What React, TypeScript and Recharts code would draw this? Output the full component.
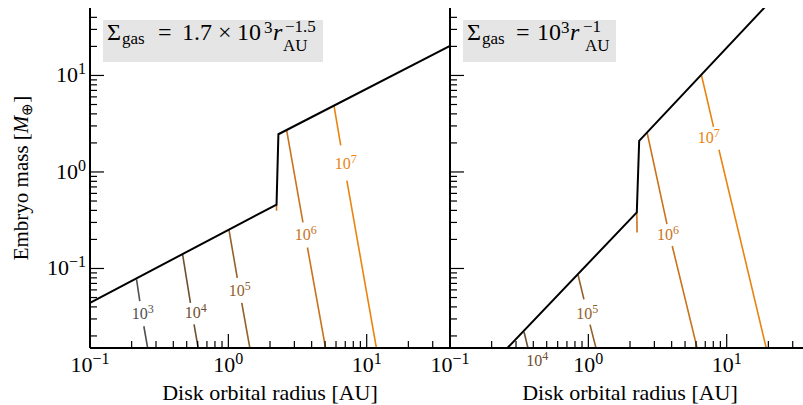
import { LineChart, Line, XAxis, YAxis, ReferenceDot } from 'recharts';

type Pt = { x: number; y: number | null };
type Lbl = { x: number; y: number; p: number };

const FONT = '"Liberation Serif", "Times New Roman", serif';

// colours of the 10^3 .. 10^7 contours
const C3 = '#505050';
const C4 = '#6f4f2f';
const C5 = '#93612b';
const C6 = '#c9731c';
const C7 = '#ea830f';

const X_DOMAIN = [0.1, 40];
const Y_DOMAIN = [0.015, 50];
const X_TICKS = [0.1, 0.2, 0.3, 0.4, 0.5, 0.6, 0.7, 0.8, 0.9, 1, 2, 3, 4, 5, 6, 7, 8, 9, 10, 20, 30];
const Y_TICKS = [
  0.02, 0.03, 0.04, 0.05, 0.06, 0.07, 0.08, 0.09, 0.1, 0.2, 0.3, 0.4, 0.5, 0.6, 0.7, 0.8, 0.9,
  1, 2, 3, 4, 5, 6, 7, 8, 9, 10, 20, 30, 40,
];
const MAJOR = [0.1, 1, 10];

/* ── left panel: Σ = 1.7e3 r^-1.5 ───────────────────── */
const leftEdge: Pt[] = [
  { x: 0.1, y: 0.044 }, { x: 2.23, y: 0.46 }, { x: 2.3, y: 2.46 }, { x: 40, y: 20.2 },
];
const left3: Pt[] = [
  { x: 0.217, y: 0.077 }, { x: 0.229, y: 0.0458 }, { x: 0.237, y: null }, { x: 0.245, y: 0.0252 }, { x: 0.261, y: 0.015 },
];
const left4: Pt[] = [
  { x: 0.467, y: 0.14 }, { x: 0.532, y: 0.044 }, { x: 0.55, y: null }, { x: 0.565, y: 0.0264 }, { x: 0.605, y: 0.015 },
];
const left5: Pt[] = [
  { x: 1.01, y: 0.252 }, { x: 1.16, y: 0.08 }, { x: 1.2, y: null }, { x: 1.25, y: 0.044 }, { x: 1.43, y: 0.015 },
];
const left6: Pt[] = [
  { x: 2.64, y: 2.7 }, { x: 3.46, y: 0.3 }, { x: 3.6, y: null }, { x: 3.73, y: 0.165 }, { x: 5.04, y: 0.015 },
];
const left6b: Pt[] = [{ x: 2.23, y: 0.46 }, { x: 2.23, y: 0.397 }];
const left7: Pt[] = [
  { x: 5.81, y: 4.8 }, { x: 6.49, y: 1.89 }, { x: 6.8, y: null }, { x: 7.19, y: 0.815 }, { x: 11.75, y: 0.015 },
];
const leftLabels: Lbl[] = [
  { x: 0.241, y: 0.0336, p: 3 }, { x: 0.582, y: 0.0343, p: 4 }, { x: 1.21, y: 0.058, p: 5 },
  { x: 3.63, y: 0.223, p: 6 }, { x: 7.05, y: 1.2, p: 7 },
];

/* ── right panel: Σ = 1e3 r^-1 ──────────────────────── */
const rightEdge: Pt[] = [
  { x: 0.26, y: 0.015 }, { x: 2.24, y: 0.381 }, { x: 2.33, y: 2.1 }, { x: 18.8, y: 50.7 },
];
const right4: Pt[] = [{ x: 0.343, y: 0.022 }, { x: 0.366, y: 0.015 }];
const right5: Pt[] = [
  { x: 0.843, y: 0.0856 }, { x: 0.929, y: 0.0478 }, { x: 0.98, y: null }, { x: 1.028, y: 0.0262 }, { x: 1.135, y: 0.015 },
];
const right6: Pt[] = [
  { x: 2.66, y: 2.55 }, { x: 3.7, y: 0.288 }, { x: 3.85, y: null }, { x: 4.04, y: 0.171 }, { x: 6.11, y: 0.015 },
];
const right6b: Pt[] = [{ x: 2.24, y: 0.381 }, { x: 2.25, y: 0.236 }];
const right7: Pt[] = [
  { x: 6.58, y: 10 }, { x: 8.03, y: 2.93 }, { x: 8.4, y: null }, { x: 8.79, y: 1.7 }, { x: 19.3, y: 0.015 },
];
const rightLabels: Lbl[] = [
  { x: 0.427, y: 0.0111, p: 4 }, { x: 0.98, y: 0.0336, p: 5 }, { x: 3.77, y: 0.223, p: 6 }, { x: 7.43, y: 2.23, p: 7 },
];

const LABEL_COLOR: Record<number, string> = { 3: C3, 4: C4, 5: C5, 6: C6, 7: C7 };

const expText = (v: number) => {
  const e = Math.round(Math.log10(v));
  return e < 0 ? `\u2212${-e}` : `${e}`;
};

/* ── ticks (inward, major + minor) ──────────────────── */
function TickX({ x, y, payload, top, labels }: any) {
  const v = payload.value;
  const major = MAJOR.includes(v);
  const len = major ? 14 : 7;
  return (
    <g>
      <line x1={x} x2={x} y1={y} y2={top ? y + len : y - len} stroke="#000" strokeWidth={1.2} />
      {labels && major && (
        <text x={x} y={y + 24} textAnchor="middle" fontFamily={FONT} fontSize={22} fill="#000">
          10<tspan dy={-8} fontSize={16}>{expText(v)}</tspan>
        </text>
      )}
    </g>
  );
}

function TickY({ x, y, payload, right, labels }: any) {
  const v = payload.value;
  const major = MAJOR.includes(v);
  const len = major ? 14 : 7;
  return (
    <g>
      <line x1={x} x2={right ? x - len : x + len} y1={y} y2={y} stroke="#000" strokeWidth={1.2} />
      {labels && major && (
        <text x={x - 4} y={y + 7} textAnchor="end" fontFamily={FONT} fontSize={22} fill="#000">
          10<tspan dy={-8} fontSize={16}>{expText(v)}</tspan>
        </text>
      )}
    </g>
  );
}

function ContourText({ cx, cy, p }: any) {
  const color = LABEL_COLOR[p];
  return (
    <text x={cx} y={cy + 5} textAnchor="middle" fontFamily={FONT} fontSize={16} fill={color}>
      10<tspan dy={-6} fontSize={12}>{p}</tspan>
    </text>
  );
}

/* ── annotations ────────────────────────────────────── */
function LeftNotes() {
  return (
    <g fontFamily={FONT} fill="#000">
      <rect x={103} y={20} width={220} height={42} fill="#e5e5e5" />
      <text fontSize={24}>
        <tspan x={107} y={40}>Σ</tspan>
        <tspan x={122} y={44} fontSize={17}>gas</tspan>
        <tspan x={158} y={40}>=</tspan>
        <tspan x={182} y={40}>1.7</tspan>
        <tspan x={218} y={40}>×</tspan>
        <tspan x={237} y={40}>10</tspan>
        <tspan x={264} y={33} fontSize={17}>3</tspan>
        <tspan x={273} y={40} fontStyle="italic">r</tspan>
        <tspan x={285} y={32} fontSize={17}>−1.5</tspan>
        <tspan x={283} y={51} fontSize={17}>AU</tspan>
      </text>
      <text transform="translate(28,178) rotate(-90)" textAnchor="middle" fontSize={21}>
        Embryo mass [<tspan fontStyle="italic">M</tspan>
        <tspan fontSize={15} dy={4}>⊕</tspan>
        <tspan dy={-4}>]</tspan>
      </text>
      <text x={270} y={400} textAnchor="middle" fontSize={22}>Disk orbital radius [AU]</text>
    </g>
  );
}

// right chart svg starts at page x = 400
function RightNotes() {
  return (
    <g fontFamily={FONT} fill="#000">
      <rect x={63} y={20} width={153} height={42} fill="#e5e5e5" />
      <text fontSize={24}>
        <tspan x={67} y={40}>Σ</tspan>
        <tspan x={82} y={44} fontSize={17}>gas</tspan>
        <tspan x={116} y={40}>=</tspan>
        <tspan x={137} y={40}>10</tspan>
        <tspan x={161} y={33} fontSize={17}>3</tspan>
        <tspan x={170} y={40} fontStyle="italic">r</tspan>
        <tspan x={183} y={32} fontSize={17}>−1</tspan>
        <tspan x={185} y={51} fontSize={17}>AU</tspan>
      </text>
      <text x={230} y={400} textAnchor="middle" fontSize={22}>Disk orbital radius [AU]</text>
    </g>
  );
}

function Panel({ width, yWidth, yLabels, edge, contours, labels, notes }: any) {
  return (
    <LineChart width={width} height={405} margin={{ top: 8, right: 10, bottom: 0, left: 0 }}>
      <XAxis
        type="number" dataKey="x" scale="log" domain={X_DOMAIN} allowDataOverflow
        ticks={X_TICKS} interval={0} height={57} tickSize={0} tickMargin={0} tickLine={false}
        axisLine={{ stroke: '#000', strokeWidth: 2 }}
        tick={(p: any) => <TickX {...p} labels />}
      />
      <XAxis
        xAxisId="t" orientation="top" type="number" dataKey="x" scale="log" domain={X_DOMAIN} allowDataOverflow
        ticks={X_TICKS} interval={0} height={0} tickSize={0} tickMargin={0} tickLine={false}
        axisLine={{ stroke: '#000', strokeWidth: 2 }}
        tick={(p: any) => <TickX {...p} top />}
      />
      <YAxis
        type="number" dataKey="y" scale="log" domain={Y_DOMAIN} allowDataOverflow
        ticks={Y_TICKS} interval={0} width={yWidth} tickSize={0} tickMargin={0} tickLine={false}
        axisLine={{ stroke: '#000', strokeWidth: 2 }}
        tick={(p: any) => <TickY {...p} labels={yLabels} />}
      />
      <YAxis
        yAxisId="r" orientation="right" type="number" scale="log" domain={Y_DOMAIN} allowDataOverflow
        ticks={Y_TICKS} interval={0} width={0} tickSize={0} tickMargin={0} tickLine={false}
        axisLine={{ stroke: '#000', strokeWidth: 2 }}
        tick={(p: any) => <TickY {...p} right />}
      />
      {contours.map((c: any, i: number) => (
        <Line
          key={i} data={c.data} dataKey="y" type="linear" dot={false} stroke={c.color}
          strokeWidth={1.6} isAnimationActive={false}
        />
      ))}
      <Line data={edge} dataKey="y" type="linear" dot={false} stroke="#000" strokeWidth={2} isAnimationActive={false} />
      {labels.map((l: Lbl, i: number) => (
        <ReferenceDot
          key={`l${i}`} x={l.x} y={l.y} r={0} ifOverflow="visible"
          shape={(p: any) => <ContourText cx={p.cx} cy={p.cy} p={l.p} />}
        />
      ))}
      {notes}
    </LineChart>
  );
}

export default function App() {
  const leftContours = [
    { data: left3, color: C3 }, { data: left4, color: C4 }, { data: left5, color: C5 },
    { data: left6, color: C6 }, { data: left6b, color: C6 }, { data: left7, color: C7 },
  ];
  const rightContours = [
    { data: right4, color: C4 }, { data: right5, color: C5 }, { data: right6, color: C6 },
    { data: right6b, color: C6 }, { data: right7, color: C7 },
  ];
  return (
    <div style={{ position: 'absolute', left: 0, top: 0, width: 803, height: 405, overflow: 'hidden', background: '#fff' }}>
      <div style={{ position: 'absolute', left: 0, top: 0 }}>
        <Panel width={460} yWidth={90} yLabels edge={leftEdge} contours={leftContours} labels={leftLabels} notes={<LeftNotes />} />
      </div>
      <div style={{ position: 'absolute', left: 400, top: 0 }}>
        <Panel width={420} yWidth={50} yLabels={false} edge={rightEdge} contours={rightContours} labels={rightLabels} notes={<RightNotes />} />
      </div>
    </div>
  );
}
